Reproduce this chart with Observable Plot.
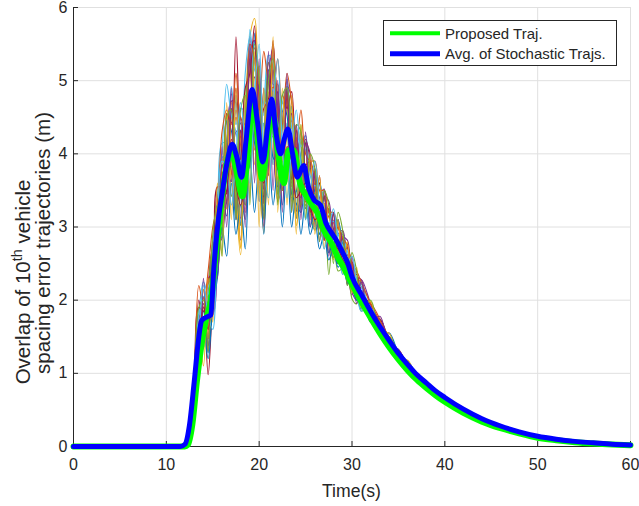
<!DOCTYPE html>
<html><head><meta charset="utf-8">
<script src="https://cdn.jsdelivr.net/npm/d3@7"></script>
<script src="https://cdn.jsdelivr.net/npm/@observablehq/plot@0.6"></script>
<style>
body{margin:0;background:#fff;}
#chart{position:relative;width:639px;height:506px;}
</style></head><body><div id="chart"></div>
<script>
// ---- tick labels ----
const xTicks = [0, 10, 20, 30, 40, 50, 60];
const yTicks = [0, 1, 2, 3, 4, 5, 6];
const seriesNames = ["Proposed Traj.", "Avg. of Stochastic Trajs."];
const xLabel = "Time(s)";

// ---- proposed trajectory (green) ----
const proposedT = [0, 12, 12.3, 12.8, 13.3, 13.8, 14.3, 14.8, 15.3, 15.8, 16.3, 17, 17.5, 18.2, 18.7, 19.3, 19.8, 20.3, 20.9, 21.4, 22, 22.65, 23.2, 23.7, 24.4, 25.2, 25.7, 26.25, 27, 27.7, 28.5, 29, 29.5, 30, 31, 32, 33, 34, 35, 36, 37, 38, 39, 40, 42, 44, 46, 48, 50, 52, 54, 56, 58, 60];
const proposedV = [0, 0, 0.02, 0.3, 0.9, 1.4, 1.75, 2.0, 2.6, 3.2, 3.7, 4.05, 3.8, 3.42, 3.9, 4.7, 4.3, 3.66, 4.2, 4.6, 4.05, 3.6, 4.05, 4.05, 3.6, 3.4, 3.3, 3.2, 2.95, 2.8, 2.58, 2.47, 2.35, 2.22, 1.98, 1.76, 1.55, 1.36, 1.19, 1.04, 0.91, 0.8, 0.7, 0.61, 0.46, 0.34, 0.25, 0.18, 0.12, 0.085, 0.058, 0.04, 0.027, 0.018];

// ---- average of stochastic trajectories (blue) ----
const avgT = [0, 11.5, 12, 12.5, 13, 13.5, 13.8, 14.2, 14.8, 15.1, 15.6, 16, 16.5, 17.1, 17.6, 18.1, 18.6, 19.25, 19.8, 20.4, 20.9, 21.35, 21.8, 22.3, 22.7, 23.1, 23.6, 24.1, 24.8, 25.3, 25.9, 26.6, 27.2, 27.8, 28.4, 29, 29.5, 30, 31, 32, 33, 34, 35, 36, 37, 38, 39, 40, 42, 44, 46, 48, 50, 52, 54, 56, 58, 60];
const avgV = [0, 0, 0.03, 0.3, 0.88, 1.5, 1.72, 1.76, 1.8, 2.4, 3.1, 3.45, 3.85, 4.13, 3.95, 3.68, 4.2, 4.88, 4.45, 3.89, 4.35, 4.75, 4.3, 4.0, 4.2, 4.34, 4.0, 3.68, 3.84, 3.55, 3.37, 3.3, 3.05, 2.92, 2.8, 2.65, 2.52, 2.32, 2.08, 1.85, 1.64, 1.45, 1.27, 1.12, 0.98, 0.87, 0.76, 0.67, 0.51, 0.38, 0.28, 0.2, 0.14, 0.1, 0.07, 0.05, 0.03, 0.02];

// ---- stochastic trajectories (thin lines), shared time samples ----
const stochT = [12.5, 13, 13.5, 14, 14.5, 15, 15.5, 16, 16.5, 17, 17.5, 18, 18.5, 19, 19.5, 20, 20.5, 21, 21.5, 22, 22.5, 23, 23.5, 24, 24.5, 25, 25.5, 26, 26.5, 27, 27.5, 28, 28.5, 29, 29.5, 30, 30.5, 31, 32, 33, 34, 35, 36, 37, 38];
const run01 = [0.3, 0.98, 1.9, 1.35, 2.18, 1.9, 3.45, 3.05, 4.45, 3.62, 4.8, 3.02, 4.7, 4.1, 5.65, 3.45, 4.42, 3.85, 5.35, 3.55, 4.6, 3.82, 4.65, 3.22, 4.2, 3.45, 3.9, 3.06, 3.6, 2.82, 3.25, 2.68, 3.1, 2.45, 2.72, 2.12, 2.4, 1.98, 1.95, 1.54, 1.55, 1.22, 1.17, 0.98, 0.87];
const run02 = [0.3, 0.78, 1.2, 2.15, 1.48, 2.6, 2.55, 3.95, 3.35, 4.72, 3.3, 4.32, 3.3, 5.4, 4.05, 5.05, 3.32, 5.15, 3.95, 4.75, 3.5, 4.92, 3.55, 4.22, 3.3, 4.15, 3.2, 3.66, 3.0, 3.32, 2.65, 3.08, 2.6, 2.85, 2.32, 2.52, 2.05, 2.18, 1.75, 1.74, 1.4, 1.32, 1.12, 0.98, 0.87];
const run03 = [0.3, 0.88, 1.3, 2.05, 1.48, 2.4, 2.65, 3.75, 3.45, 4.62, 3.4, 2.62, 4.5, 5.6, 5.85, 4.05, 2.92, 4.95, 5.25, 3.65, 3.5, 4.72, 4.55, 3.22, 3.3, 4.05, 3.8, 3.06, 3.0, 3.32, 3.2, 2.68, 2.6, 2.85, 2.72, 2.17, 2.05, 2.18, 1.95, 1.54, 1.5, 1.27, 1.12, 0.98, 0.87];
const run04 = [0.3, 0.78, 1.1, 1.55, 2.18, 2.7, 2.75, 2.85, 4.15, 4.82, 3.7, 2.82, 4.3, 5.6, 4.55, 3.35, 4.12, 5.25, 4.35, 3.35, 4.4, 5.02, 3.85, 3.12, 4.0, 4.25, 3.3, 2.96, 3.4, 3.52, 2.85, 2.58, 2.9, 2.95, 2.42, 2.07, 2.3, 2.28, 1.75, 1.74, 1.35, 1.32, 1.12, 0.98, 0.87];
const run05 = [0.3, 0.83, 1.6, 1.45, 2.08, 1.8, 3.25, 2.95, 3.95, 4.6, 3.3, 3.8, 4.9, 3.9, 4.4, 5.2, 3.4, 4.3, 5.3, 3.6, 3.9, 4.9, 3.4, 3.5, 4.4, 3.3, 3.3, 3.8, 3.0, 3.3, 2.35, 2.98, 2.4, 2.45, 2.62, 2.02, 1.95, 2.18, 1.75, 1.74, 1.4, 1.27, 1.12, 0.98, 0.87];
const run06 = [0.3, 0.98, 1.8, 2.25, 2.08, 2.8, 3.25, 4.15, 4.15, 4.92, 4.4, 4.62, 4.6, 5.7, 5.15, 5.05, 4.52, 5.35, 4.95, 4.95, 4.6, 5.02, 4.45, 4.32, 4.1, 4.25, 3.8, 3.76, 3.5, 3.42, 3.15, 3.18, 2.9, 2.9, 2.62, 2.52, 2.3, 2.23, 1.95, 1.69, 1.5, 1.27, 1.12, 0.98, 0.87];
const run07 = [0.3, 0.98, 2.0, 1.45, 2.28, 2.0, 3.55, 3.15, 4.55, 3.72, 5.6, 3.9, 3.2, 5.4, 4.3, 3.6, 4.9, 3.7, 5.5, 4.5, 3.5, 4.9, 3.6, 4.4, 3.2, 4.2, 3.9, 3.0, 3.7, 2.82, 3.25, 2.68, 3.1, 2.45, 2.77, 2.17, 2.4, 1.98, 1.95, 1.59, 1.5, 1.27, 1.12, 0.98, 0.87];
const run08 = [0.3, 0.93, 1.7, 1.75, 1.38, 2.7, 3.05, 2.85, 4.45, 4.32, 3.2, 4.42, 4.4, 3.8, 5.55, 4.45, 3.12, 5.15, 4.75, 3.45, 4.7, 4.52, 3.45, 4.22, 3.9, 3.25, 3.9, 3.46, 2.9, 3.42, 2.95, 2.58, 3.1, 2.75, 2.22, 2.52, 2.2, 1.88, 1.95, 1.54, 1.55, 1.27, 1.07, 0.98, 0.87];
const run09 = [0.3, 0.88, 1.7, 1.95, 1.38, 1.9, 3.35, 3.75, 3.35, 3.72, 4.6, 4.22, 3.4, 4.1, 5.45, 4.85, 3.22, 3.85, 5.25, 4.75, 3.5, 3.82, 4.55, 4.22, 3.3, 3.35, 3.9, 3.66, 3.0, 2.82, 3.15, 3.08, 2.6, 2.45, 2.72, 2.47, 2.05, 1.98, 1.95, 1.74, 1.4, 1.22, 1.12, 0.98, 0.87];
const run10 = [0.3, 0.83, 1.6, 2.15, 1.58, 2.5, 2.45, 3.65, 3.25, 4.52, 3.2, 4.52, 3.6, 5.2, 3.85, 5.15, 3.62, 4.85, 3.85, 4.95, 3.9, 4.82, 3.35, 4.32, 3.6, 4.05, 3.1, 3.76, 3.2, 3.32, 2.65, 3.18, 2.7, 2.85, 2.32, 2.52, 2.1, 2.18, 1.75, 1.74, 1.45, 1.27, 1.12, 0.98, 0.87];
const run11 = [0.3, 0.93, 1.8, 1.55, 1.48, 2.6, 3.45, 3.05, 3.35, 4.72, 4.7, 3.12, 3.5, 5.4, 5.55, 3.55, 3.42, 5.05, 5.45, 3.55, 3.6, 4.92, 4.75, 3.22, 3.4, 4.15, 4.0, 3.06, 3.0, 3.42, 3.35, 2.68, 2.5, 2.85, 2.82, 2.12, 2.0, 2.28, 1.95, 1.54, 1.4, 1.32, 1.12, 0.98, 0.87];
const run12 = [0.3, 0.98, 1.5, 1.45, 1.98, 2.7, 2.75, 2.95, 4.15, 4.62, 3.6, 3.02, 4.5, 5.4, 4.45, 3.45, 4.22, 5.25, 4.45, 3.45, 4.4, 4.92, 3.65, 3.12, 4.2, 4.15, 3.2, 2.96, 3.5, 3.42, 2.75, 2.58, 3.0, 2.85, 2.32, 2.12, 2.3, 2.23, 1.75, 1.54, 1.5, 1.27, 1.12, 0.98, 0.87];
const run13 = [0.3, 0.88, 1.4, 1.35, 2.18, 2.3, 2.45, 3.95, 3.95, 3.42, 4.8, 3.92, 3.3, 5.5, 4.85, 3.35, 4.72, 4.55, 3.85, 4.85, 4.1, 3.62, 4.65, 3.82, 3.2, 4.15, 3.5, 2.96, 3.6, 3.12, 2.65, 3.18, 2.8, 2.35, 2.72, 2.32, 2.0, 2.23, 1.75, 1.74, 1.45, 1.22, 1.12, 0.98, 0.87];
const run14 = [0.3, 0.83, 1.3, 2.05, 0.98, 2.0, 2.65, 3.85, 3.45, 4.62, 3.5, 4.32, 3.6, 5.3, 4.35, 4.95, 3.32, 5.05, 4.25, 4.85, 3.6, 4.82, 3.65, 4.32, 3.4, 4.15, 3.2, 3.76, 3.0, 3.42, 2.75, 3.18, 2.6, 2.85, 2.37, 2.52, 2.1, 2.18, 1.75, 1.74, 1.45, 1.27, 1.12, 0.98, 0.87];
const run15 = [0.3, 0.78, 1.3, 1.85, 1.28, 2.1, 2.35, 3.45, 3.15, 4.02, 3.1, 3.42, 3.1, 4.6, 4.15, 3.85, 3.12, 4.55, 3.95, 3.85, 3.3, 4.42, 3.45, 3.32, 3.2, 3.75, 3.0, 3.26, 2.9, 3.12, 2.65, 2.78, 2.5, 2.65, 2.32, 2.22, 2.0, 2.08, 1.75, 1.64, 1.4, 1.27, 1.12, 0.98, 0.87];
const run16 = [0.3, 0.93, 1.7, 1.65, 1.88, 2.5, 2.85, 3.75, 3.65, 3.92, 4.5, 4.12, 3.7, 4.4, 5.25, 4.75, 3.52, 4.05, 5.15, 4.55, 3.8, 3.92, 4.45, 4.02, 3.5, 3.55, 3.8, 3.56, 3.1, 2.92, 3.15, 3.08, 2.7, 2.5, 2.62, 2.42, 2.1, 1.98, 1.9, 1.69, 1.45, 1.27, 1.12, 0.98, 0.87];
const run17 = [0.3, 0.78, 1.2, 1.75, 1.48, 2.0, 2.55, 3.25, 3.25, 3.82, 3.4, 2.72, 3.9, 4.2, 5.05, 3.55, 3.02, 4.25, 4.85, 3.35, 3.6, 4.22, 4.35, 3.02, 3.5, 3.85, 3.4, 3.06, 3.5, 2.92, 2.75, 2.88, 3.0, 2.55, 2.32, 2.42, 2.3, 1.98, 1.8, 1.69, 1.45, 1.27, 1.12, 0.98, 0.87];
const run18 = [0.3, 0.78, 1.5, 1.95, 1.78, 1.8, 3.05, 3.85, 3.75, 3.62, 4.3, 4.32, 3.8, 4.1, 5.05, 4.85, 3.52, 3.85, 5.15, 4.65, 3.7, 3.82, 4.55, 4.12, 3.4, 3.45, 3.8, 3.66, 3.1, 2.82, 3.25, 2.98, 2.5, 2.55, 2.72, 2.42, 2.05, 1.98, 1.95, 1.64, 1.45, 1.27, 1.12, 0.98, 0.87];
const run19 = [0.3, 0.78, 1.4, 1.45, 1.98, 1.9, 2.75, 2.95, 3.75, 3.42, 3.6, 3.52, 3.3, 4.1, 4.45, 4.05, 3.22, 3.95, 4.25, 4.25, 3.5, 3.92, 3.75, 3.82, 3.3, 3.45, 3.4, 3.46, 3.0, 2.92, 2.85, 2.78, 2.5, 2.55, 2.42, 2.12, 2.2, 1.98, 1.75, 1.64, 1.45, 1.27, 1.12, 0.98, 0.87];
const run20 = [0.3, 0.98, 1.8, 2.05, 2.08, 2.7, 3.45, 4.05, 4.95, 4.52, 4.3, 3.92, 5.1, 5.6, 5.25, 4.45, 4.72, 5.35, 5.25, 4.35, 4.7, 4.92, 4.35, 3.92, 4.2, 4.05, 3.7, 3.56, 3.6, 3.22, 3.05, 3.08, 2.9, 2.75, 2.67, 2.37, 2.3, 2.18, 1.9, 1.64, 1.45, 1.27, 1.12, 0.98, 0.87];
const run21 = [0.3, 0.98, 1.9, 1.85, 2.28, 2.4, 3.55, 3.55, 4.55, 4.42, 4.9, 3.92, 4.9, 5.1, 5.75, 4.35, 4.62, 4.75, 5.55, 4.15, 4.8, 4.62, 4.85, 3.72, 4.3, 3.85, 3.9, 3.36, 3.6, 3.12, 3.25, 2.88, 3.0, 2.65, 2.72, 2.32, 2.35, 2.08, 1.95, 1.64, 1.5, 1.27, 1.12, 0.98, 0.87];
const run22 = [0.3, 0.8, 1.1, 1.6, 1.2, 1.9, 2.3, 3.0, 2.6, 3.6, 2.9, 3.3, 2.7, 4.0, 3.2, 3.9, 2.9, 4.1, 3.3, 3.8, 3.0, 3.9, 3.0, 3.5, 2.9, 3.4, 2.9, 3.1, 2.7, 2.9, 2.55, 2.7, 2.45, 2.55, 2.25, 2.2, 2.0, 2.0, 1.75, 1.6, 1.42, 1.25, 1.1, 0.97, 0.86];
const run23 = [0.3, 1.0, 2.2, 1.9, 2.4, 3.0, 3.3, 4.3, 4.6, 4.4, 5.1, 4.5, 4.4, 5.5, 5.3, 4.6, 5.4, 5.0, 4.9, 5.3, 4.4, 5.1, 4.7, 4.1, 4.6, 4.0, 3.9, 3.9, 3.5, 3.5, 3.2, 3.2, 3.0, 2.85, 2.75, 2.5, 2.4, 2.25, 1.95, 1.72, 1.5, 1.3, 1.14, 0.99, 0.88];
const run24 = [0.3, 0.9, 1.6, 1.1, 2.3, 1.7, 3.6, 2.6, 4.7, 3.1, 4.9, 2.7, 4.8, 3.4, 5.4, 3.0, 4.9, 3.3, 5.6, 3.2, 4.9, 3.3, 4.8, 2.9, 4.4, 3.1, 4.0, 2.9, 3.7, 2.7, 3.3, 2.55, 3.1, 2.35, 2.8, 2.1, 2.45, 1.9, 1.98, 1.55, 1.55, 1.2, 1.18, 0.95, 0.9];
const run25 = [0.3, 0.85, 1.0, 2.3, 1.3, 2.8, 2.3, 4.1, 3.0, 4.9, 3.1, 4.5, 3.0, 5.5, 3.6, 5.3, 3.0, 5.4, 3.5, 5.0, 3.2, 5.1, 3.2, 4.4, 3.1, 4.3, 3.0, 3.8, 2.8, 3.5, 2.6, 3.2, 2.5, 2.95, 2.2, 2.6, 1.95, 2.25, 1.7, 1.78, 1.38, 1.33, 1.08, 1.0, 0.85];
const run26 = [0.3, 0.95, 1.9, 2.0, 1.3, 2.9, 3.3, 2.6, 4.5, 4.6, 3.1, 4.6, 4.8, 3.3, 5.5, 5.0, 3.1, 5.0, 5.3, 3.3, 4.8, 4.9, 3.2, 4.4, 4.3, 3.1, 4.0, 3.8, 2.8, 3.5, 3.3, 2.5, 3.2, 2.95, 2.2, 2.65, 2.4, 1.85, 2.0, 1.58, 1.5, 1.3, 1.1, 0.99, 0.87];
const run27 = [0.3, 0.9, 1.5, 2.2, 1.8, 1.6, 2.9, 3.9, 3.8, 3.3, 4.0, 4.7, 4.1, 3.6, 4.8, 5.5, 3.9, 3.4, 4.6, 5.3, 4.1, 3.4, 4.1, 4.6, 3.8, 3.1, 3.5, 3.9, 3.3, 2.7, 2.95, 3.25, 2.8, 2.35, 2.5, 2.6, 2.2, 1.85, 1.9, 1.6, 1.48, 1.25, 1.13, 0.97, 0.88];
const run28 = [0.3, 0.85, 1.3, 1.9, 1.6, 2.5, 2.6, 3.3, 3.5, 4.2, 3.6, 3.3, 3.6, 4.3, 4.5, 3.9, 3.6, 4.2, 4.4, 3.8, 3.7, 4.1, 3.9, 3.4, 3.5, 3.6, 3.3, 3.1, 3.15, 2.95, 2.8, 2.75, 2.7, 2.55, 2.45, 2.25, 2.15, 2.02, 1.8, 1.6, 1.42, 1.25, 1.1, 0.97, 0.86];

// MATLAB default colour order for the thin runs
const runColors = ["#0072BD", "#D95319", "#EDB120", "#7E2F8E", "#77AC30", "#4DBEEE", "#A2142F"];

// ---- build tables ----
const runs = [run01, run02, run03, run04, run05, run06, run07, run08, run09, run10, run11, run12, run13, run14, run15, run16, run17, run18, run19, run20, run21, run22, run23, run24, run25, run26, run27, run28];
const stochData = runs.flatMap((r, i) => r.map((v, j) => ({t: stochT[j], v, run: i})));
const propData = proposedT.map((t, i) => ({t, v: proposedV[i]}));
const avgData = avgT.map((t, i) => ({t, v: avgV[i]}));

const W = 639, H = 506, ML = 73, MR = 9, MT = 7, MB = 60;
const ink = "#262626";
const font = "'Liberation Sans', Arial, Helvetica, sans-serif";

const plot = Plot.plot({
  width: W, height: H,
  marginLeft: ML, marginRight: MR, marginTop: MT, marginBottom: MB,
  style: {fontFamily: font, fontSize: "16px", color: ink, background: "#fff", overflow: "visible"},
  x: {domain: [0, 60]},
  y: {domain: [0, 6]},
  color: {type: "ordinal", domain: runs.map((_, i) => i), range: runs.map((_, i) => runColors[i % runColors.length])},
  marks: [
    Plot.gridX(xTicks, {stroke: "#e0e0e0", strokeOpacity: 1}),
    Plot.gridY(yTicks, {stroke: "#e0e0e0", strokeOpacity: 1}),
    Plot.ruleX([0], {stroke: ink, strokeWidth: 1}),
    Plot.ruleY([0], {stroke: ink, strokeWidth: 1}),
    Plot.ruleX(xTicks, {stroke: ink, insetTop: H - MT - MB - 5}),
    Plot.ruleY(yTicks, {stroke: ink, insetRight: W - ML - MR - 5}),
    Plot.line(stochData, {x: "t", y: "v", z: "run", stroke: "run", strokeWidth: 1.1, curve: "catmull-rom"}),
    Plot.line(propData, {x: "t", y: "v", stroke: "#00ff00", strokeWidth: 6, curve: "monotone-x"}),
    Plot.line(avgData, {x: "t", y: "v", stroke: "#0000ff", strokeWidth: 5, curve: "monotone-x"}),
    Plot.axisX(xTicks, {tickSize: 0, tickPadding: 12, fontSize: 16, label: null, tickFormat: d => String(d)}),
    Plot.axisY(yTicks, {tickSize: 0, tickPadding: 6, fontSize: 16, label: null, tickFormat: d => String(d)})
  ]
});

const svg = d3.select(plot);
// x label
svg.append("text").attr("x", (ML + W - MR) / 2).attr("y", 497)
  .attr("text-anchor", "middle").attr("font-family", font).attr("font-size", 17.6).attr("fill", ink)
  .text(xLabel);
// y label (two lines)
const yl1 = svg.append("text").attr("transform", "translate(30,282) rotate(-90)")
  .attr("text-anchor", "middle").attr("font-family", font).attr("font-size", 20.5).attr("fill", ink);
yl1.append("tspan").text("Overlap of 10");
yl1.append("tspan").attr("dy", -8).attr("font-size", 14.5).text("th");
yl1.append("tspan").attr("dy", 8).text(" vehicle");
svg.append("text").attr("transform", "translate(50,243) rotate(-90)")
  .attr("text-anchor", "middle").attr("font-family", font).attr("font-size", 20.5).attr("fill", ink)
  .text("spacing error trajectories (m)");

// legend
const lg = svg.append("g");
lg.append("rect").attr("x", 383.5).attr("y", 20.5).attr("width", 233).attr("height", 45)
  .attr("fill", "#fff").attr("stroke", ink).attr("stroke-width", 1);
const legendColors = ["#00ff00", "#0000ff"];
const legendWidths = [4, 5];
seriesNames.forEach((name, i) => {
  const cy = 33.3 + i * 20.4;
  lg.append("line").attr("x1", 390).attr("x2", 440).attr("y1", cy).attr("y2", cy)
    .attr("stroke", legendColors[i]).attr("stroke-width", legendWidths[i]);
  lg.append("text").attr("x", 445).attr("y", cy + 5.5).attr("text-anchor", "start").attr("font-family", font)
    .attr("font-size", 15).attr("fill", ink).text(name);
});

document.getElementById("chart").append(plot);
</script>
</body></html>
